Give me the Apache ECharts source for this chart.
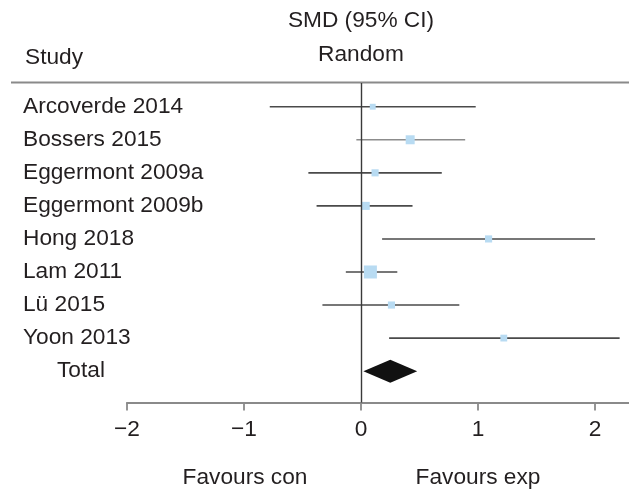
<!DOCTYPE html>
<html>
<head>
<meta charset="utf-8">
<script src="https://cdn.jsdelivr.net/npm/echarts@6/dist/echarts.min.js"></script>
<style>
html,body{margin:0;padding:0;background:#fff;}
#chart{width:629px;height:493px;}
</style>
</head>
<body>
<div id="chart"></div>
<script>
// ---- data ----
var studies = ['Arcoverde 2014','Bossers 2015','Eggermont 2009a','Eggermont 2009b','Hong 2018','Lam 2011','Lü 2015','Yoon 2013'];
var smd     = [0.10, 0.42, 0.12, 0.04, 1.09, 0.08, 0.26, 1.22];
var ciLow   = [-0.78, -0.04, -0.45, -0.38, 0.18, -0.13, -0.33, 0.24];
var ciHigh  = [0.98, 0.89, 0.69, 0.44, 2.00, 0.31, 0.84, 2.21];
var weights = [9.5, 14.5, 11.5, 13, 11.5, 21, 11.5, 11];
var totalLabel = 'Total';
var totalSmd = 0.25, totalLow = 0.02, totalHigh = 0.48;
var xTicks = [-2, -1, 0, 1, 2];
var headerStudy = 'Study', headerMeasure = 'SMD (95% CI)', headerModel = 'Random';
var favourLeft = 'Favours con', favourRight = 'Favours exp';

var FONT = '"Liberation Sans", Arial, Helvetica, sans-serif';
var FS = 22.7;
var TXT = '#231f20';

var studyData = studies.map(function(s, i){ return [ciLow[i], ciHigh[i], smd[i], i, weights[i]]; });
var totalData = [[totalLow, totalHigh, totalSmd, studies.length]];
var labelCats = studies.concat([totalLabel]);

var chart = echarts.init(document.getElementById('chart'), null, {renderer:'canvas'});

var option = {
  animation: false,
  backgroundColor: '#fff',
  grid: [
    {left: 127, right: 0, top: 83, bottom: 90.5},
    {left: 127, right: 0, top: 90.2, height: 297}
  ],
  xAxis: [
    {
      gridIndex: 0, type: 'value', min: -2, max: 2.29, interval: 1, position: 'bottom',
      axisLine: {show: true, onZero: false, lineStyle: {color: '#8a8a8a', width: 2}},
      axisTick: {show: true, inside: false, length: 8, lineStyle: {color: '#8a8a8a', width: 1.8},
                 customValues: xTicks},
      axisLabel: {show: true, margin: 16, color: TXT, fontSize: FS, fontFamily: FONT,
                  customValues: xTicks,
                  formatter: function(v){ return (v < 0 ? '\u2212' + Math.abs(v) : String(v)); }},
      splitLine: {show: false}
    },
    {gridIndex: 1, type: 'value', min: -2, max: 2.29, show: false}
  ],
  yAxis: [
    {gridIndex: 0, type: 'value', inverse: true, min: -0.718, max: 8.949, show: false},
    {
      gridIndex: 1, type: 'category', inverse: true, data: labelCats,
      axisLine: {show: false}, axisTick: {show: false}, splitLine: {show: false},
      axisLabel: {
        show: true, align: 'left', margin: 104, color: TXT, fontSize: FS, fontFamily: FONT,
        formatter: function(v){ return v === totalLabel ? '{t|' + v + '}' : v; },
        rich: {t: {padding: [0,0,0,34], color: TXT, fontSize: FS, fontFamily: FONT}}
      }
    }
  ],
  graphic: [
    {type: 'line', shape: {x1: 11, y1: 82.5, x2: 629, y2: 82.5}, style: {stroke: '#8a8a8a', lineWidth: 2}, z: 1},
    {type: 'text', x: 25, y: 58, style: {text: headerStudy, fill: TXT, font: FS + 'px ' + FONT, textAlign: 'left', textVerticalAlign: 'middle'}},
    {type: 'text', x: 361, y: 21, style: {text: headerMeasure, fill: TXT, font: FS + 'px ' + FONT, textAlign: 'center', textVerticalAlign: 'middle'}},
    {type: 'text', x: 361, y: 55, style: {text: headerModel, fill: TXT, font: FS + 'px ' + FONT, textAlign: 'center', textVerticalAlign: 'middle'}},
    {type: 'text', x: 245, y: 478, style: {text: favourLeft, fill: TXT, font: FS + 'px ' + FONT, textAlign: 'center', textVerticalAlign: 'middle'}},
    {type: 'text', x: 478, y: 478, style: {text: favourRight, fill: TXT, font: FS + 'px ' + FONT, textAlign: 'center', textVerticalAlign: 'middle'}}
  ],
  series: [
    {
      type: 'custom', xAxisIndex: 0, yAxisIndex: 0, data: studyData, z: 3,
      renderItem: function(params, api){
        var cs = params.coordSys;
        var row = api.value(3);
        var p1 = api.coord([api.value(0), row]);
        var p2 = api.coord([api.value(1), row]);
        var pc = api.coord([api.value(2), row]);
        var x1 = Math.max(p1[0], cs.x), x2 = Math.min(p2[0], cs.x + cs.width);
        var s = api.value(4) * 0.62;
        var lineColor = params.dataIndex === 1 ? '#8c8c8c' : '#4a4a4a';
        return {
          type: 'group',
          children: [
            {type: 'line', shape: {x1: x1, y1: pc[1], x2: x2, y2: pc[1]}, style: {stroke: lineColor, lineWidth: 1.6}},
            {type: 'rect', shape: {x: pc[0] - s/2, y: pc[1] - s/2, width: s, height: s}, style: {fill: '#b8dbf2'}}
          ]
        };
      },
      markLine: {
        silent: true, symbol: 'none', label: {show: false},
        lineStyle: {color: '#3a3a3a', width: 1.4, type: 'solid'},
        data: [{xAxis: 0}]
      }
    },
    {
      type: 'custom', xAxisIndex: 0, yAxisIndex: 0, data: totalData, z: 4,
      renderItem: function(params, api){
        var row = api.value(3);
        var pl = api.coord([api.value(0), row]);
        var ph = api.coord([api.value(1), row]);
        var pc = api.coord([api.value(2), row]);
        var h = 11.5;
        return {
          type: 'polygon',
          shape: {points: [[pl[0], pl[1]], [pc[0], pc[1] - h], [ph[0], ph[1]], [pc[0], pc[1] + h]]},
          style: {fill: '#111111'}
        };
      }
    }
  ]
};
chart.setOption(option);
</script>
</body>
</html>
